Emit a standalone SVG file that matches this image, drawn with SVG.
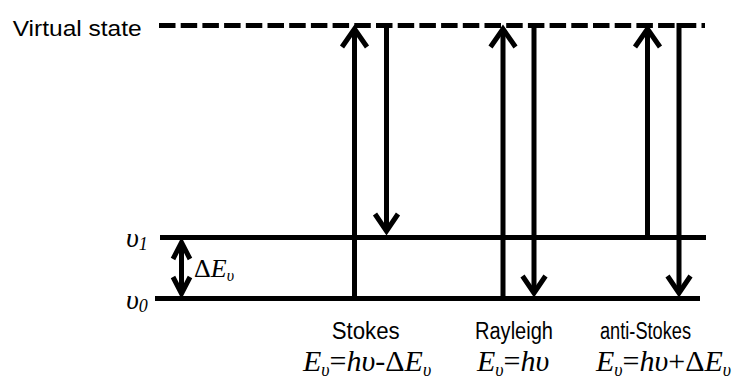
<svg xmlns="http://www.w3.org/2000/svg" width="737" height="376" viewBox="0 0 737 376">
  <defs>
    <style>
      .lvl { stroke: #000; stroke-width: 5; fill: none; }
      .dash { stroke: #000; stroke-width: 5; fill: none; stroke-dasharray: 16.5 5.2; }
      .arr { stroke: #000; stroke-width: 5; fill: none; stroke-linejoin: miter; stroke-miterlimit: 10; }
      .lbl { font-family: "Liberation Sans", Arial, sans-serif; fill: #000; }
      .math { font-family: "Liberation Serif", "Times New Roman", serif; font-style: italic; fill: #000; }
      .up { font-style: normal; }
    </style>
  </defs>

  <!-- energy levels -->
  <g id="virtual-state">
    <line class="dash" x1="159" y1="25.5" x2="705" y2="25.5"/>
    <text class="lbl" x="12.7" y="35.5" font-size="22.5" textLength="129" lengthAdjust="spacingAndGlyphs">Virtual state</text>
  </g>
  <g id="level-v1">
    <line class="lvl" x1="160" y1="237.5" x2="706" y2="237.5"/>
    <text class="math" x="126" y="247" font-size="28">υ<tspan font-size="18" dy="3">1</tspan></text>
  </g>
  <g id="level-v0">
    <line class="lvl" x1="155" y1="298.5" x2="700" y2="298.5"/>
    <text class="math" x="126" y="309" font-size="28">υ<tspan font-size="18" dy="3">0</tspan></text>
  </g>
  <g id="gap">
    <text class="math" x="194" y="277" font-size="26"><tspan class="up">Δ</tspan>E<tspan font-size="16" dy="4">υ</tspan></text>
  </g>

  <!-- transitions -->
  <g id="connectors">
    <!-- vibrational spacing -->
    <line class="arr" x1="181.5" y1="243" x2="181.5" y2="293"/>
    <polyline class="arr" points="173,259 181.5,242.5 190,259"/>
    <polyline class="arr" points="173,277 181.5,293.5 190,277"/>
    <!-- Stokes -->
    <line class="arr" x1="354.5" y1="298" x2="354.5" y2="29"/>
    <polyline class="arr" points="342,47 354.5,29 367,47"/>
    <line class="arr" x1="386.5" y1="23" x2="386.5" y2="231"/>
    <polyline class="arr" points="375,214 386.5,231 398,214"/>
    <!-- Rayleigh -->
    <line class="arr" x1="503" y1="298" x2="503" y2="29"/>
    <polyline class="arr" points="490.5,47 503,29 515.5,47"/>
    <line class="arr" x1="534" y1="23" x2="534" y2="293"/>
    <polyline class="arr" points="522.5,276 534,293 545.5,276"/>
    <!-- anti-Stokes -->
    <line class="arr" x1="647.5" y1="237" x2="647.5" y2="29"/>
    <polyline class="arr" points="635,47 647.5,29 660,47"/>
    <line class="arr" x1="679" y1="23" x2="679" y2="293"/>
    <polyline class="arr" points="667.5,276 679,293 690.5,276"/>
  </g>

  <!-- process labels -->
  <g id="stokes">
    <text class="lbl" x="331.7" y="339" font-size="23" textLength="68" lengthAdjust="spacingAndGlyphs">Stokes</text>
    <text class="math" x="303" y="371" font-size="30">E<tspan font-size="18" dy="5">υ</tspan><tspan class="up" dy="-5">=</tspan>hυ<tspan class="up">-Δ</tspan>E<tspan font-size="18" dy="5">υ</tspan></text>
  </g>
  <g id="rayleigh">
    <text class="lbl" x="475" y="339" font-size="23" textLength="78" lengthAdjust="spacingAndGlyphs">Rayleigh</text>
    <text class="math" x="477" y="371" font-size="30">E<tspan font-size="18" dy="5">υ</tspan><tspan class="up" dy="-5">=</tspan>hυ</text>
  </g>
  <g id="anti-stokes">
    <text class="lbl" x="600" y="339" font-size="23" textLength="91" lengthAdjust="spacingAndGlyphs">anti-Stokes</text>
    <text class="math" x="596" y="371" font-size="30">E<tspan font-size="18" dy="5">υ</tspan><tspan class="up" dy="-5">=</tspan>hυ<tspan class="up">+Δ</tspan>E<tspan font-size="18" dy="5">υ</tspan></text>
  </g>
</svg>
